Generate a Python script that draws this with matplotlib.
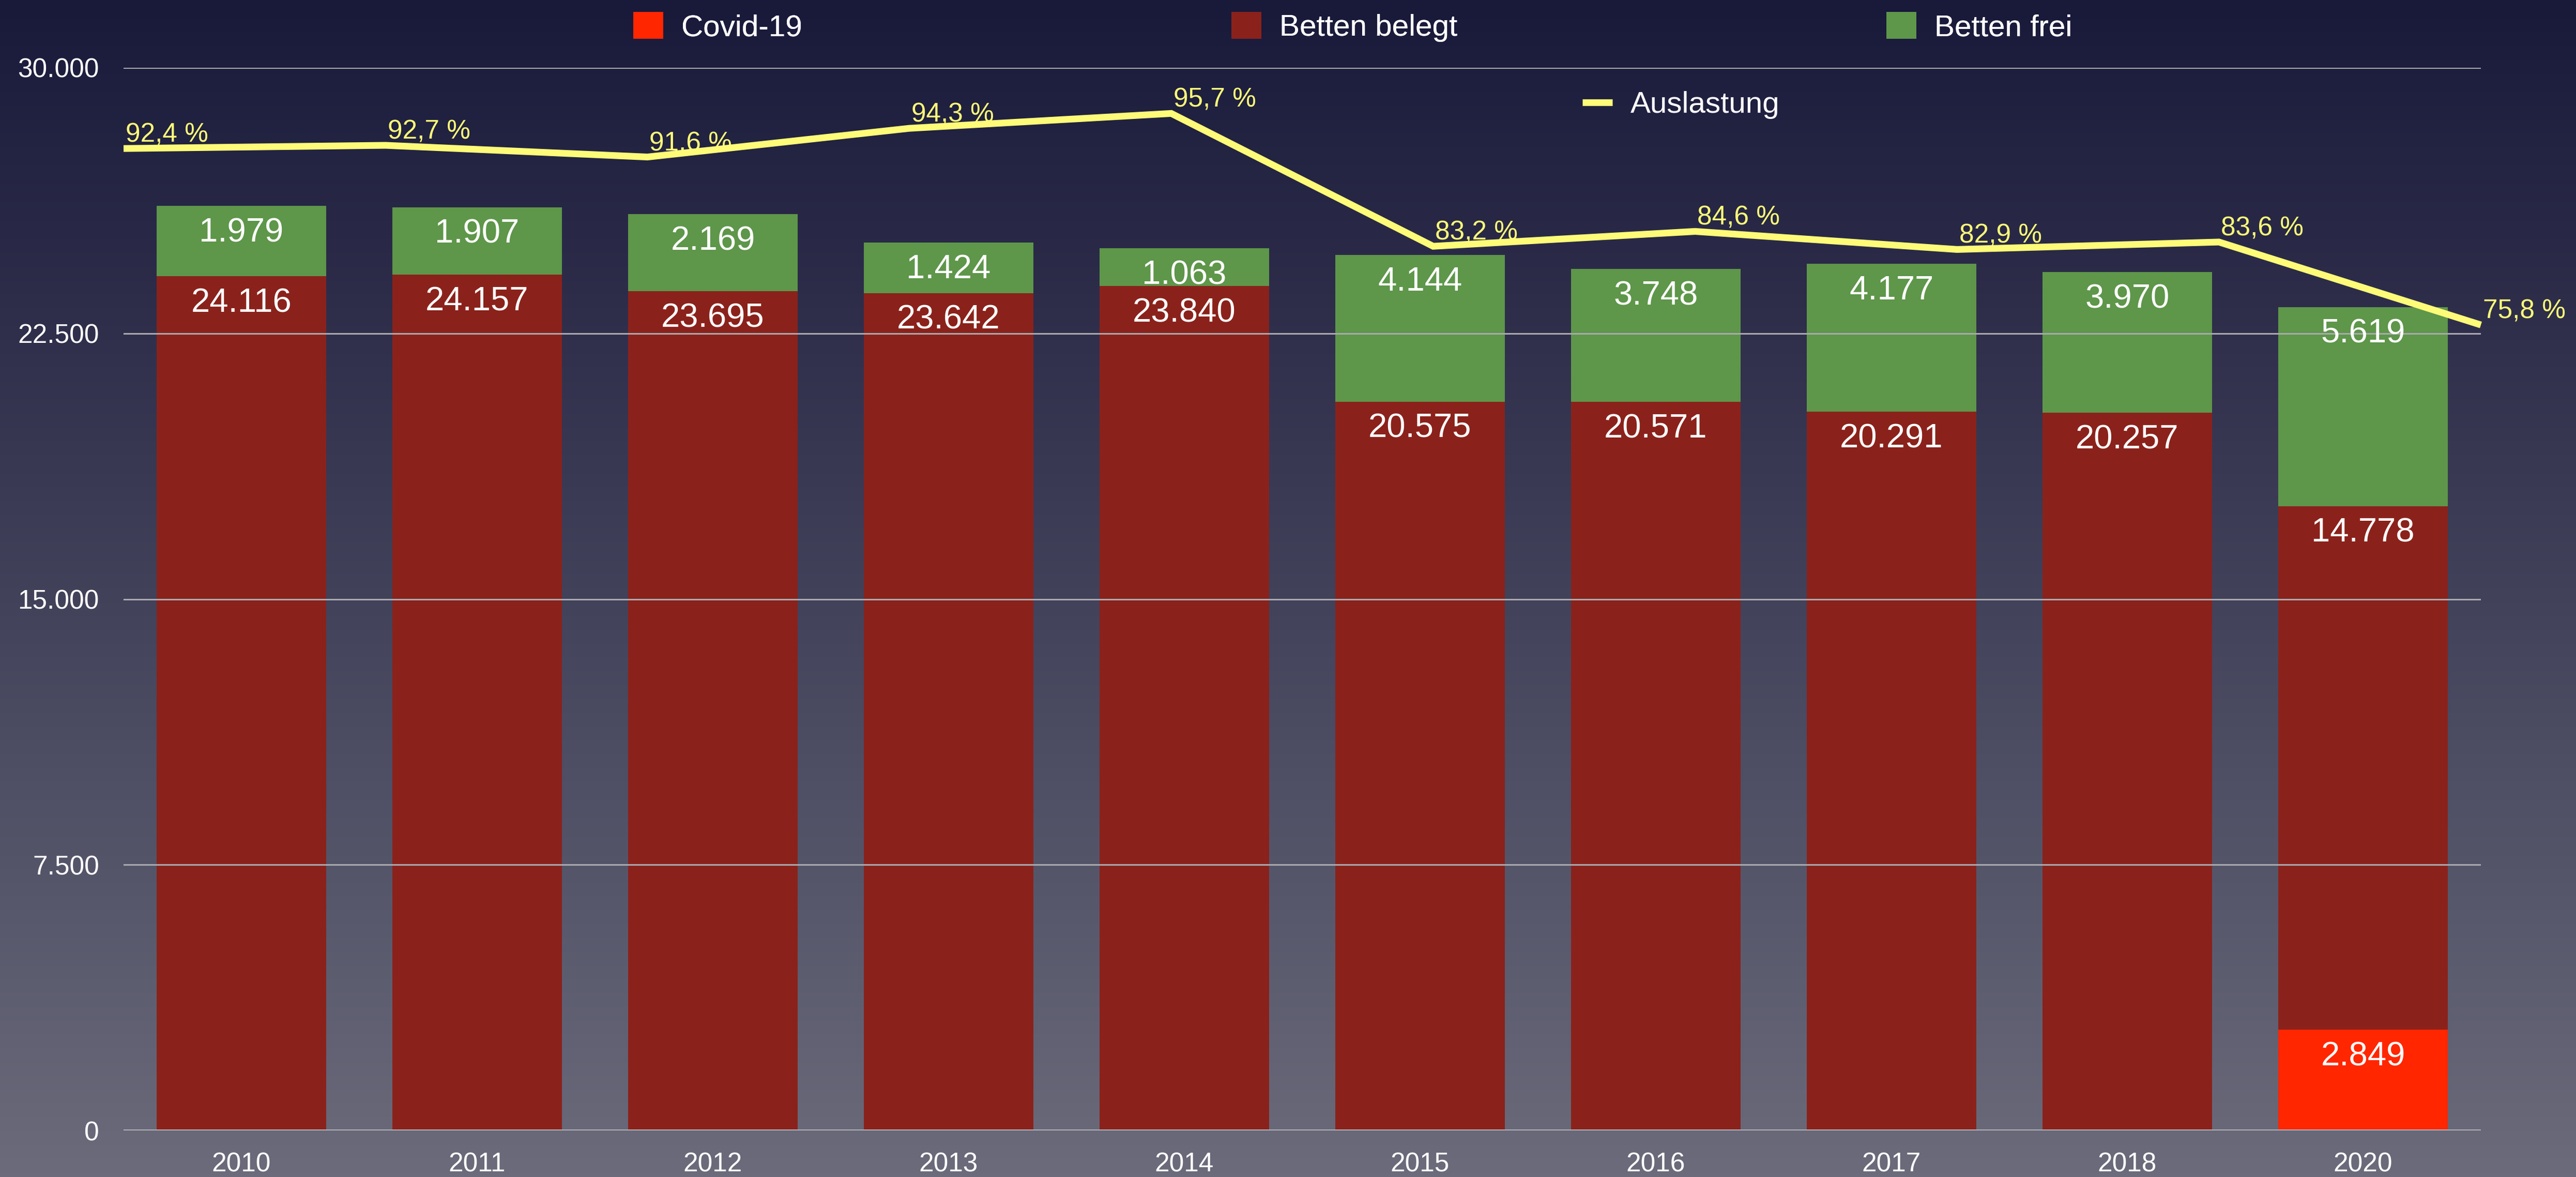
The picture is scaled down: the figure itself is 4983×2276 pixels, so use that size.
import numpy as np
import matplotlib.pyplot as plt
from matplotlib.colors import LinearSegmentedColormap
from matplotlib.ticker import FuncFormatter

plt.rcParams['font.family'] = ['Liberation Sans', 'DejaVu Sans']

# data
years = ["2010", "2011", "2012", "2013", "2014", "2015", "2016", "2017", "2018", "2020"]
covid = [0, 0, 0, 0, 0, 0, 0, 0, 0, 2849]
belegt = [24116, 24157, 23695, 23642, 23840, 20575, 20571, 20291, 20257, 14778]
frei = [1979, 1907, 2169, 1424, 1063, 4144, 3748, 4177, 3970, 5619]
auslastung = [92.4, 92.7, 91.6, 94.3, 95.7, 83.2, 84.6, 82.9, 83.6, 75.8]
yticks = [0, 7500, 15000, 22500, 30000]

c_covid = "#FF2600"
c_belegt = "#8A221B"
c_frei = "#5E964A"
c_line = "#FDFB78"


def de_num(v):
    return f"{int(v):,}".replace(",", ".")


fig = plt.figure(figsize=(49.83, 22.76), dpi=100)

# gradient background
bg = fig.add_axes([0, 0, 1, 1], zorder=-10)
cmap = LinearSegmentedColormap.from_list("bg", ["#19193A", "#41415A", "#6B6B7B"])
bg.imshow(np.linspace(0, 1, 256).reshape(-1, 1), aspect="auto", cmap=cmap,
          extent=[0, 1, 0, 1], origin="upper")
bg.axis("off")

pos = [239 / 4983, 1 - 2186 / 2276, (4799 - 239) / 4983, (2186 - 131) / 2276]
ax = fig.add_axes(pos)
ax.set_facecolor("none")

x = np.arange(len(years))
w = 0.72
bottom_belegt = np.array(covid)
bottom_frei = bottom_belegt + np.array(belegt)
b_cov = ax.bar(x, covid, w, color=c_covid, label="Covid-19", zorder=1)
b_bel = ax.bar(x, belegt, w, bottom=bottom_belegt, color=c_belegt, label="Betten belegt", zorder=1)
b_fre = ax.bar(x, frei, w, bottom=bottom_frei, color=c_frei, label="Betten frei", zorder=1)

# value labels near the top of each segment
for bars, vals in [(b_cov, covid), (b_bel, belegt), (b_fre, frei)]:
    for rect, v in zip(bars, vals):
        if v == 0:
            continue
        ax.annotate(de_num(v), (rect.get_x() + rect.get_width() / 2, rect.get_y() + rect.get_height()),
                    xytext=(0, -16), textcoords="offset points", ha="center", va="top",
                    color="white", fontsize=47, zorder=4)

ax.set_xlim(-0.5, len(years) - 0.5)
ax.set_ylim(0, 30000)
ax.set_yticks(yticks)
ax.yaxis.set_major_formatter(FuncFormatter(lambda v, p: de_num(v)))
ax.set_xticks(x)
ax.set_xticklabels(years)
ax.tick_params(axis="both", length=0, colors="white", labelsize=37)
ax.tick_params(axis="y", pad=34)
ax.tick_params(axis="x", pad=30)
for s in ax.spines.values():
    s.set_visible(False)
ax.set_axisbelow(False)
ax.grid(axis="y", color="#A9A9AE", linewidth=2.2, zorder=2.5)
ax.axhline(0, color="#B4B4B8", linewidth=3.5, zorder=3)

# Auslastung line on its own 0-100 scale, spanning the full width
ax2 = fig.add_axes(pos, zorder=5)
ax2.set_facecolor("none")
ax2.set_xlim(0, len(years) - 1)
ax2.set_ylim(0, 100)
ax2.axis("off")
line, = ax2.plot(np.arange(len(years)), auslastung, color=c_line, linewidth=9.4,
                 solid_capstyle="butt", solid_joinstyle="miter", clip_on=False, label="Auslastung")
for i, p in enumerate(auslastung):
    ax2.annotate(f"{p:.1f} %".replace(".", ","), (i, p), xytext=(3, 9), textcoords="offset points",
                 ha="left", va="baseline", color=c_line, fontsize=37, annotation_clip=False)

leg1 = fig.legend(handles=[b_cov, b_bel, b_fre], loc="center left",
                  bbox_to_anchor=(1225 / 4983, 1 - 52 / 2276), ncol=3, frameon=False,
                  fontsize=42, handlelength=1.0, handleheight=1.0, handletextpad=0.6,
                  columnspacing=14.22, borderpad=0, borderaxespad=0, labelcolor="white")
leg2 = fig.legend(handles=[line], loc="center left",
                  bbox_to_anchor=(3061 / 4983, 1 - 203 / 2276), frameon=False,
                  fontsize=42, handlelength=1.0, handletextpad=0.6,
                  borderpad=0, borderaxespad=0, labelcolor="white")
fig.add_artist(leg1)

fig.savefig("out.png", dpi=100)
